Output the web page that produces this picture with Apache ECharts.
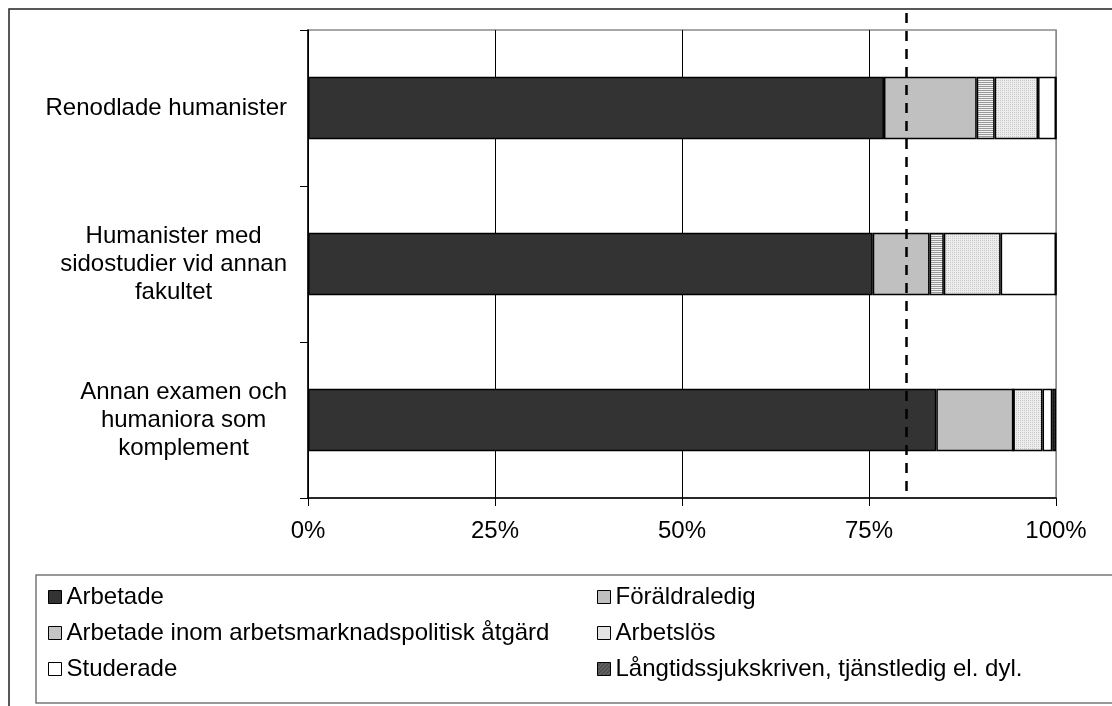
<!DOCTYPE html>
<html>
<head>
<meta charset="utf-8">
<script src="https://cdn.jsdelivr.net/npm/echarts@6/dist/echarts.min.js"></script>
<style>
html,body{margin:0;padding:0;background:#fff;}
#chart{width:1112px;height:706px;}
</style>
</head>
<body>
<div id="chart"></div>
<script>
// ---- data ----
const categories = [
  'Renodlade humanister',
  'Humanister med\nsidostudier vid annan\nfakultet',
  'Annan examen och\nhumaniora som\nkomplement'
];
const seriesNames = [
  'Arbetade',
  'Föräldraledig',
  'Arbetade inom arbetsmarknadspolitisk åtgärd',
  'Arbetslös',
  'Studerade',
  'Långtidssjukskriven, tjänstledig el. dyl.'
];
const arbetade      = [77.0, 75.5, 84.0];
const foraldraledig = [12.4, 7.6, 10.3];
const atgard        = [2.4, 1.9, 0];
const arbetslos     = [5.8, 7.6, 3.9];
const studerade     = [2.4, 7.4, 1.3];
const langtid       = [0, 0, 0.5];
const xTicks = [0, 25, 50, 75, 100];
const referenceValue = 80;

// ---- patterns ----
function pattern(size, draw) {
  const c = document.createElement('canvas');
  c.width = size; c.height = size;
  const ctx = c.getContext('2d');
  draw(ctx, size);
  return { image: c, repeat: 'repeat' };
}
const stripes = pattern(2, (ctx) => {
  ctx.fillStyle = '#f2f2f2'; ctx.fillRect(0, 0, 2, 2);
  ctx.fillStyle = '#999999'; ctx.fillRect(0, 0, 2, 1);
});
const dots = pattern(2, (ctx) => {
  ctx.fillStyle = '#ededed'; ctx.fillRect(0, 0, 2, 2);
  ctx.fillStyle = '#c8c8c8'; ctx.fillRect(0, 0, 1, 1);
});
const hatch = pattern(4, (ctx) => {
  ctx.fillStyle = '#666666'; ctx.fillRect(0, 0, 4, 4);
  ctx.fillStyle = '#2e2e2e';
  for (let i = 0; i < 4; i++) ctx.fillRect(i, 3 - i, 1, 1);
});

const fills = ['#333333', '#c0c0c0', stripes, dots, '#ffffff', hatch];
const values = [arbetade, foraldraledig, atgard, arbetslos, studerade, langtid];
const FONT = "'Liberation Sans', Arial, sans-serif";
const FS = 24;

const chart = echarts.init(document.getElementById('chart'), null, { renderer: 'canvas' });

const series = seriesNames.map((name, i) => ({
  name: name,
  type: 'bar',
  stack: 'total',
  barWidth: '40%',
  data: values[i],
  itemStyle: { color: fills[i], borderColor: '#000', borderWidth: 1.5 },
  emphasis: { disabled: true },
  animation: false
}));

const legendText = { fontSize: FS, fontFamily: FONT, color: '#000' };

const option = {
  backgroundColor: '#fff',
  animation: false,
  grid: {
    left: 308, right: 56, top: 30, bottom: 208,
    show: true, borderColor: '#8a8a8a', borderWidth: 1.5, backgroundColor: 'transparent'
  },
  xAxis: {
    type: 'value', min: 0, max: 100, interval: 25,
    axisLine: { show: true, lineStyle: { color: '#000', width: 1.5 } },
    axisTick: { show: true, length: 8, lineStyle: { color: '#000', width: 1 } },
    axisLabel: {
      margin: 21, fontSize: FS, fontFamily: FONT, color: '#000',
      formatter: v => xTicks.indexOf(v) >= 0 ? v + '%' : ''
    },
    splitLine: { show: true, lineStyle: { color: ['#000', '#000', '#000', '#000', '#8a8a8a'], width: 1 } }
  },
  yAxis: {
    type: 'category', data: categories, inverse: true,
    axisLine: { show: true, lineStyle: { color: '#000', width: 1.5 } },
    axisTick: { show: true, length: 8, lineStyle: { color: '#000', width: 1 } },
    axisLabel: {
      margin: 21,
      formatter: v => v.split('\n').map(l => '{c|' + l + '}').join('\n'),
      rich: { c: { align: 'center', fontSize: FS, lineHeight: 28, fontFamily: FONT, color: '#000' } }
    },
    splitLine: { show: false }
  },
  legend: [
    {
      orient: 'vertical', left: 43, top: 580, itemGap: 12,
      itemWidth: 13, itemHeight: 13, icon: 'rect',
      data: [seriesNames[0], seriesNames[2], seriesNames[4]],
      textStyle: legendText, selectedMode: false,
      itemStyle: { borderWidth: 1 }
    },
    {
      orient: 'vertical', left: 592, top: 580, itemGap: 12,
      itemWidth: 13, itemHeight: 13, icon: 'rect',
      data: [seriesNames[1], seriesNames[3], seriesNames[5]],
      textStyle: legendText, selectedMode: false,
      itemStyle: { borderWidth: 1 }
    }
  ],
  graphic: [
    { type: 'rect', shape: { x: 9, y: 9, width: 1300, height: 900 },
      style: { fill: 'none', stroke: '#222', lineWidth: 1.5 }, silent: true },
    { type: 'rect', shape: { x: 36, y: 575, width: 1300, height: 128 },
      style: { fill: 'none', stroke: '#777', lineWidth: 1.5 }, silent: true }
  ],
  series: series
};

chart.setOption(option);

// dashed reference line at 80 %, positioned through the x scale
const px = chart.convertToPixel({ xAxisIndex: 0 }, referenceValue);
chart.setOption({
  series: [{
    name: seriesNames[0],
    markLine: {
      silent: true, symbol: ['none', 'none'], label: { show: false },
      lineStyle: { color: '#000', type: [10, 8], width: 2.5 },
      data: [[{ x: px, y: 13 }, { x: px, y: 496 }]]
    }
  }]
});
</script>
</body>
</html>
